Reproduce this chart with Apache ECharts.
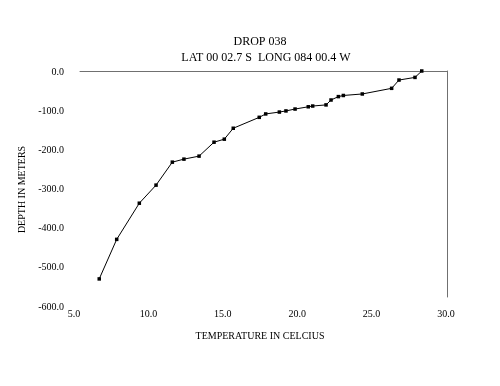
<!DOCTYPE html>
<html>
<head>
<meta charset="utf-8">
<script src="https://cdn.jsdelivr.net/npm/echarts@6/dist/echarts.min.js"></script>
<style>html,body{margin:0;padding:0;background:#fff}#c{width:500px;height:386px}</style>
</head>
<body>
<div id="c"></div>
<script>
// Data (temperature in °C, depth in meters)
var temperature = [6.31, 7.50, 9.04, 10.18, 11.29, 12.08, 13.11, 14.13, 14.83, 15.44, 17.21, 17.65, 18.58, 19.03, 19.65, 20.55, 20.85, 21.76, 22.10, 22.60, 22.94, 24.23, 26.23, 26.73, 27.82, 28.28];
var depth = [-552, -447, -351, -303, -242, -234, -226, -189, -181, -152, -123, -114, -109, -106, -101, -95, -93, -90, -77, -68, -65, -61, -46, -24, -17, 0];
var xTickLabels = ['5.0', '10.0', '15.0', '20.0', '25.0', '30.0'];
var yTickLabels = ['-600.0', '-500.0', '-400.0', '-300.0', '-200.0', '-100.0', '0.0'];
var titleLine1 = 'DROP 038';
var titleLine2 = 'LAT 00 02.7 S  LONG 084 00.4 W';
var xTitle = 'TEMPERATURE IN CELCIUS';
var yTitle = 'DEPTH IN METERS';

var xMin = parseFloat(xTickLabels[0]), xMax = parseFloat(xTickLabels[xTickLabels.length - 1]);
var yMin = parseFloat(yTickLabels[0]), yMax = parseFloat(yTickLabels[yTickLabels.length - 1]);
var pts = temperature.map(function (t, i) { return [t, depth[i]]; });
var font = 'Liberation Serif, Times New Roman, serif';
var axisGray = '#707070';

var chart = echarts.init(document.getElementById('c'), null, { renderer: 'canvas' });
chart.setOption({
  animation: false,
  backgroundColor: '#fff',
  graphic: [
    { type: 'text', x: 260, y: 42, style: { text: titleLine1, textAlign: 'center', textVerticalAlign: 'middle', font: '12px ' + font, fill: '#000' } },
    { type: 'text', x: 266, y: 58, style: { text: titleLine2, textAlign: 'center', textVerticalAlign: 'middle', font: '12px ' + font, fill: '#000' } }
  ],
  grid: [
    { left: 80, right: 53, top: 71, bottom: 89 },
    { left: 74, right: 54, top: 72, bottom: 79 }
  ],
  xAxis: [
    { type: 'value', gridIndex: 0, position: 'top', min: xMin, max: xMax, interval: 5,
      axisLine: { show: true, onZero: false, lineStyle: { color: axisGray, width: 1 } },
      axisTick: { show: false }, axisLabel: { show: false }, splitLine: { show: false } },
    { type: 'value', gridIndex: 1, position: 'bottom', min: xMin, max: xMax, interval: 5,
      axisLine: { show: false }, axisTick: { show: false }, splitLine: { show: false },
      axisLabel: { margin: 2, color: '#000', fontFamily: font, fontSize: 10,
        formatter: function (v) { return xTickLabels[Math.round((v - xMin) / 5)]; } },
      name: xTitle, nameLocation: 'middle', nameGap: 24,
      nameTextStyle: { color: '#000', fontFamily: font, fontSize: 10 } }
  ],
  yAxis: [
    { type: 'value', gridIndex: 0, position: 'right', min: yMin, max: yMax, interval: 100,
      axisLine: { show: true, onZero: false, lineStyle: { color: axisGray, width: 1 } },
      axisTick: { show: false }, axisLabel: { show: false }, splitLine: { show: false } },
    { type: 'value', gridIndex: 1, position: 'left', min: yMin, max: yMax, interval: 100,
      axisLine: { show: false }, axisTick: { show: false }, splitLine: { show: false },
      axisLabel: { margin: 10, color: '#000', fontFamily: font, fontSize: 10,
        formatter: function (v) { return yTickLabels[Math.round((v - yMin) / 100)]; } },
      name: yTitle, nameLocation: 'middle', nameGap: 37, nameRotate: 90,
      nameTextStyle: { color: '#000', fontFamily: font, fontSize: 10 } }
  ],
  series: [{
    type: 'line', xAxisIndex: 0, yAxisIndex: 0, data: pts,
    symbol: 'rect', symbolSize: 3.5, showSymbol: true,
    itemStyle: { color: '#000' },
    lineStyle: { color: '#000', width: 1 }
  }]
});
</script>
</body>
</html>
